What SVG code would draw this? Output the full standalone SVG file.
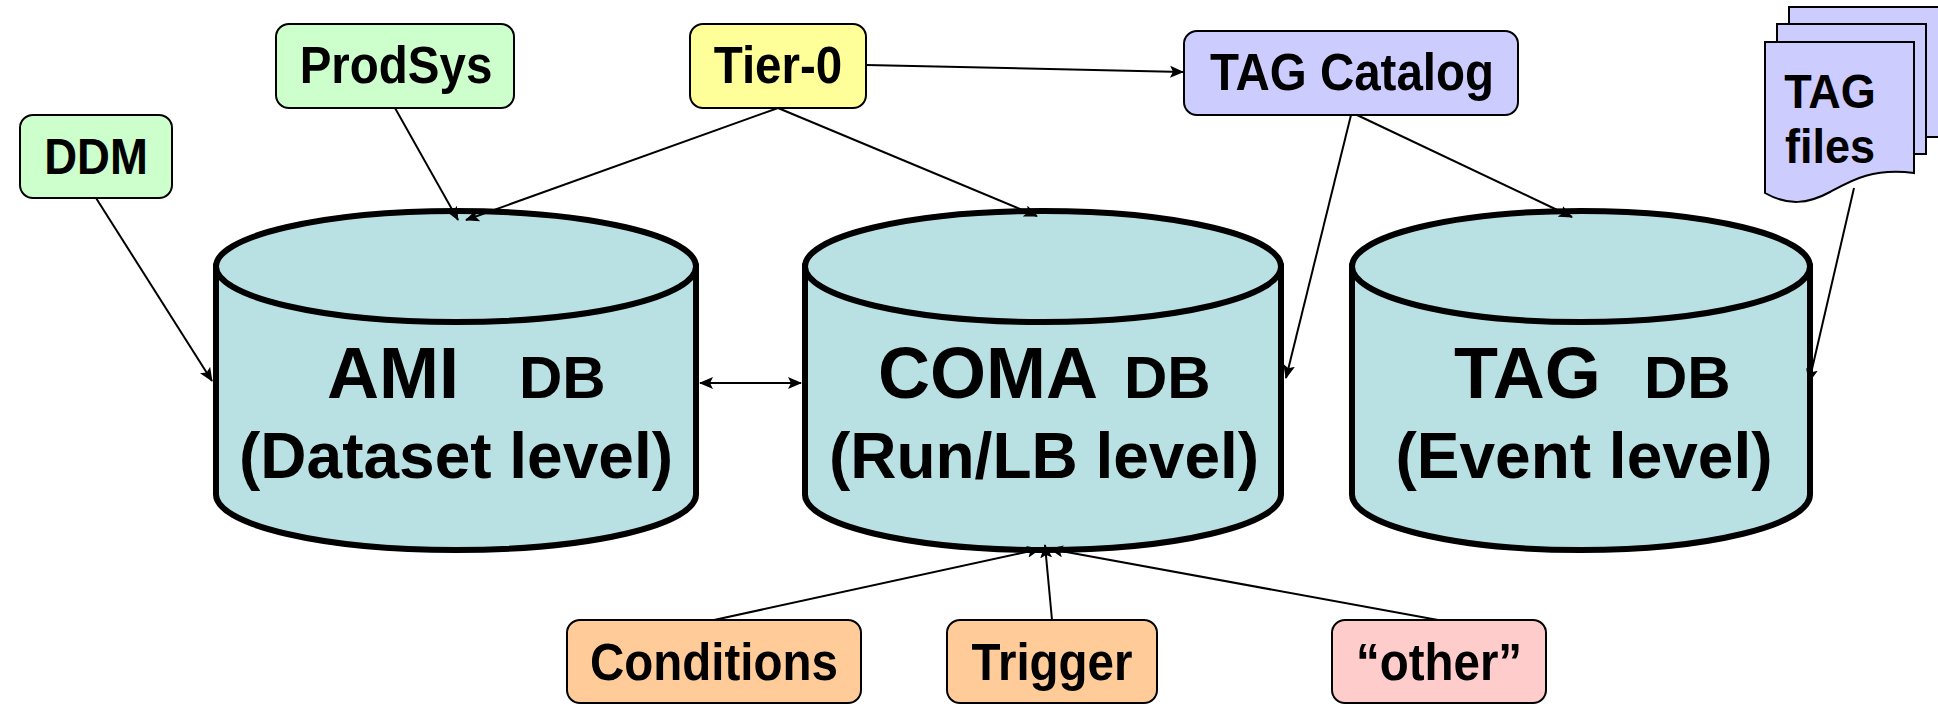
<svg xmlns="http://www.w3.org/2000/svg" width="1938" height="704" viewBox="0 0 1938 704">
<defs>
<marker id="ah" markerUnits="userSpaceOnUse" markerWidth="14" markerHeight="12" refX="13" refY="6" orient="auto-start-reverse">
<path d="M0,0 L14,6 L0,12 L3,6 z" fill="#000"/>
</marker>
<style>
.box{stroke:#000;stroke-width:2}
.lbl{font-family:"Liberation Sans",Arial,sans-serif;font-weight:bold;font-size:47.5px;fill:#000;text-anchor:middle}
.cyl{fill:#B9E0E3;stroke:#000;stroke-width:6}
.big{font-family:"Liberation Sans",Arial,sans-serif;font-weight:bold;font-size:72px;fill:#000}
.db{font-family:"Liberation Sans",Arial,sans-serif;font-weight:bold;font-size:60px;fill:#000}
.lvl{font-family:"Liberation Sans",Arial,sans-serif;font-weight:bold;font-size:64px;fill:#000;text-anchor:middle}
.page{fill:#CCCCFF;stroke:#000;stroke-width:2}
.con{stroke:#000;stroke-width:2;fill:none;marker-end:url(#ah)}
</style>
</defs>
<rect width="1938" height="704" fill="#fff"/>

<g id="ami">
<path class="cyl" d="M216,266.5 L216,494.5 A240,55.5 0 0 0 696,494.5 L696,266.5 Z"/>
<ellipse class="cyl" cx="456" cy="266.5" rx="240" ry="55.5"/>
<text class="big" x="327" y="398">AMI</text>
<text class="db" x="519" y="398">DB</text>
<text class="lvl" x="456" y="478">(Dataset level)</text>
</g>
<g id="coma">
<path class="cyl" d="M805,266.5 L805,494.5 A238,55.5 0 0 0 1281,494.5 L1281,266.5 Z"/>
<ellipse class="cyl" cx="1043" cy="266.5" rx="238" ry="55.5"/>
<text class="big" x="878" y="398">COMA</text>
<text class="db" x="1124" y="398">DB</text>
<text class="lvl" x="1044" y="478">(Run/LB level)</text>
</g>
<g id="tag">
<path class="cyl" d="M1352,266.5 L1352,494.5 A229,55.5 0 0 0 1810,494.5 L1810,266.5 Z"/>
<ellipse class="cyl" cx="1581" cy="266.5" rx="229" ry="55.5"/>
<text class="big" x="1454" y="398">TAG</text>
<text class="db" x="1644" y="398">DB</text>
<text class="lvl" x="1584" y="478">(Event level)</text>
</g>

<g id="ddm">
<rect class="box" x="20" y="115" width="152" height="83" rx="13" fill="#CCFFCC"/>
<text class="lbl" transform="translate(96,174) scale(1,1.08)" style="font-size:45.5px">DDM</text>
</g>
<g id="prodsys">
<rect class="box" x="276" y="24" width="238" height="84" rx="13" fill="#CCFFCC"/>
<text class="lbl" transform="translate(396,83) scale(1,1.08)">ProdSys</text>
</g>
<g id="tier0">
<rect class="box" x="690" y="24" width="176" height="84" rx="13" fill="#FFFF99"/>
<text class="lbl" transform="translate(778,83) scale(1,1.08)">Tier-0</text>
</g>
<g id="tagcatalog">
<rect class="box" x="1184" y="31" width="334" height="84" rx="13" fill="#CCCCFF"/>
<text class="lbl" transform="translate(1352,90) scale(1,1.08)">TAG Catalog</text>
</g>
<g id="tagfiles">
<rect class="page" x="1789" y="7" width="152" height="130"/>
<rect class="page" x="1777" y="24" width="149" height="130"/>
<path class="page" d="M1765,42 L1914,42 L1914,173 C1872,168 1852,180 1830,192 C1808,204 1788,206 1765,193 Z"/>
<text class="lbl" transform="translate(1830,108) scale(1,1.08)" style="font-size:45px">TAG</text>
<text class="lbl" transform="translate(1830,163) scale(1,1.08)" style="font-size:45px">files</text>
</g>
<g id="conditions">
<rect class="box" x="567" y="620" width="294" height="83" rx="13" fill="#FFCC99"/>
<text class="lbl" transform="translate(714,680) scale(1,1.08)">Conditions</text>
</g>
<g id="trigger">
<rect class="box" x="947" y="620" width="210" height="83" rx="13" fill="#FFCC99"/>
<text class="lbl" transform="translate(1052,680) scale(1,1.08)">Trigger</text>
</g>
<g id="other">
<rect class="box" x="1332" y="620" width="214" height="83" rx="13" fill="#FFCCCC"/>
<text class="lbl" transform="translate(1439,680) scale(1,1.08)">“other”</text>
</g>

<g id="connectors">
<line class="con" x1="96" y1="198" x2="212" y2="381"/>
<line class="con" x1="395" y1="108" x2="458" y2="220"/>
<line class="con" x1="778" y1="108" x2="466" y2="220"/>
<line class="con" x1="778" y1="108" x2="1037" y2="216"/>
<line class="con" x1="866" y1="65" x2="1183" y2="72"/>
<line class="con" x1="1351" y1="115" x2="1286" y2="378"/>
<line class="con" x1="1357" y1="115" x2="1572" y2="217"/>
<line class="con" x1="1854" y1="188" x2="1809" y2="382"/>
<line class="con" x1="700" y1="383" x2="801" y2="383" style="marker-start:url(#ah)"/>
<line class="con" x1="714" y1="620" x2="1040" y2="549"/>
<line class="con" x1="1052" y1="620" x2="1045" y2="545"/>
<line class="con" x1="1438" y1="620" x2="1050" y2="549"/>
</g>
</svg>
